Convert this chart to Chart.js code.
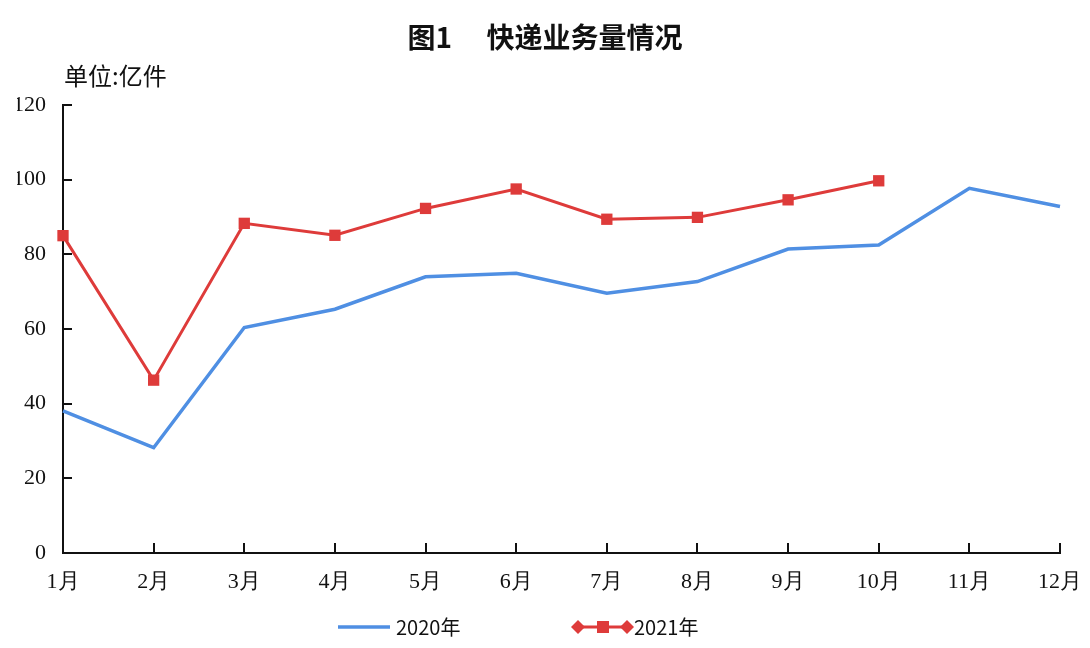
<!DOCTYPE html>
<html>
<head>
<meta charset="utf-8">
<script src="https://cdn.jsdelivr.net/npm/chart.js@4.4.0/dist/chart.umd.min.js"></script>
<style>
  html, body { margin: 0; padding: 0; background: #fff; }
  #wrap { width: 1090px; height: 648px; position: relative; }
</style>
</head>
<body>
<div id="wrap"><canvas id="grafExpress"></canvas></div>
<script>
// dados
const months = ['1月', '2月', '3月', '4月', '5月', '6月', '7月', '8月', '9月', '10月', '11月', '12月'];
const vol2020 = [38.1, 28.2, 60.4, 65.3, 74.0, 74.9, 69.6, 72.7, 81.4, 82.5, 97.7, 92.8];
const vol2021 = [85.0, 46.3, 88.3, 85.1, 92.3, 97.5, 89.4, 89.9, 94.6, 99.7];
const yTicks = [0, 20, 40, 60, 80, 100, 120];

const BLUE = '#4f8fe3';
const RED = '#de3b3a';
const SERIF = '"Liberation Serif", "DejaVu Serif", serif';
const CJK = '"Noto Sans CJK SC", "Noto Sans", sans-serif';

// marcas internas dos eixos + título, unidade e legenda
const decor = {
  id: 'decor',
  afterDraw(chart) {
    const { ctx, scales: { x, y }, chartArea } = chart;
    ctx.save();
    ctx.strokeStyle = '#111';
    ctx.lineWidth = 2;
    ctx.beginPath();
    yTicks.forEach(v => {
      const py = Math.round(y.getPixelForValue(v));
      ctx.moveTo(chartArea.left, py);
      ctx.lineTo(chartArea.left + 9, py);
    });
    months.forEach((m, i) => {
      const px = Math.round(x.getPixelForValue(i));
      ctx.moveTo(px, chartArea.bottom);
      ctx.lineTo(px, chartArea.bottom - 10);
    });
    ctx.stroke();

    // título
    ctx.fillStyle = '#111';
    ctx.textBaseline = 'middle';
    ctx.textAlign = 'center';
    ctx.font = 'bold 28px ' + CJK;
    ctx.fillText('图1　 快递业务量情况', 545, 37);

    // unidade
    ctx.textAlign = 'left';
    ctx.font = '24px ' + CJK;
    ctx.fillText('单位:亿件', 64, 76);

    // legenda
    const ly = 627;
    ctx.font = '20px ' + CJK;
    ctx.strokeStyle = BLUE;
    ctx.lineWidth = 3.5;
    ctx.beginPath();
    ctx.moveTo(338, ly);
    ctx.lineTo(390, ly);
    ctx.stroke();
    ctx.fillStyle = '#111';
    ctx.fillText('2020年', 396, ly);

    ctx.strokeStyle = RED;
    ctx.lineWidth = 3;
    ctx.beginPath();
    ctx.moveTo(574, ly);
    ctx.lineTo(630, ly);
    ctx.stroke();
    ctx.fillStyle = RED;
    [578, 627].forEach(cx => {
      ctx.beginPath();
      ctx.moveTo(cx, ly - 7);
      ctx.lineTo(cx + 7, ly);
      ctx.lineTo(cx, ly + 7);
      ctx.lineTo(cx - 7, ly);
      ctx.closePath();
      ctx.fill();
    });
    ctx.fillRect(597, ly - 6, 12, 12);
    ctx.fillStyle = '#111';
    ctx.fillText('2021年', 634, ly);
    ctx.restore();
  }
};

new Chart(document.getElementById('grafExpress'), {
  type: 'line',
  data: {
    labels: months,
    datasets: [
      {
        label: '2020年',
        data: vol2020,
        borderColor: BLUE,
        borderWidth: 3.5,
        pointRadius: 0,
        tension: 0
      },
      {
        label: '2021年',
        data: vol2021,
        borderColor: RED,
        backgroundColor: RED,
        borderWidth: 3,
        pointStyle: 'rect',
        pointRadius: 8,
        pointBorderWidth: 0,
        tension: 0
      }
    ]
  },
  options: {
    responsive: true,
    maintainAspectRatio: false,
    animation: false,
    layout: { padding: { left: 17, right: 30, top: 105, bottom: 55 } },
    plugins: {
      legend: { display: false },
      title: { display: false },
      tooltip: { enabled: false }
    },
    scales: {
      x: {
        offset: false,
        grid: { display: false, drawTicks: false },
        border: { display: true, color: '#111', width: 2 },
        afterFit: axis => { axis.height = 40; axis.paddingRight = 0; axis.paddingLeft = 0; },
        ticks: { color: '#111', font: { family: SERIF, size: 22 }, padding: 16, maxRotation: 0, autoSkip: false }
      },
      y: {
        min: 0,
        max: 120,
        afterBuildTicks: axis => { axis.ticks = yTicks.map(v => ({ value: v })); },
        afterFit: axis => { axis.width = 46; axis.paddingTop = 0; axis.paddingBottom = 0; },
        grid: { display: false, drawTicks: false },
        border: { display: true, color: '#111', width: 2 },
        ticks: { color: '#111', font: { family: SERIF, size: 22 }, padding: 17 }
      }
    }
  },
  plugins: [decor]
});
</script>
</body>
</html>
